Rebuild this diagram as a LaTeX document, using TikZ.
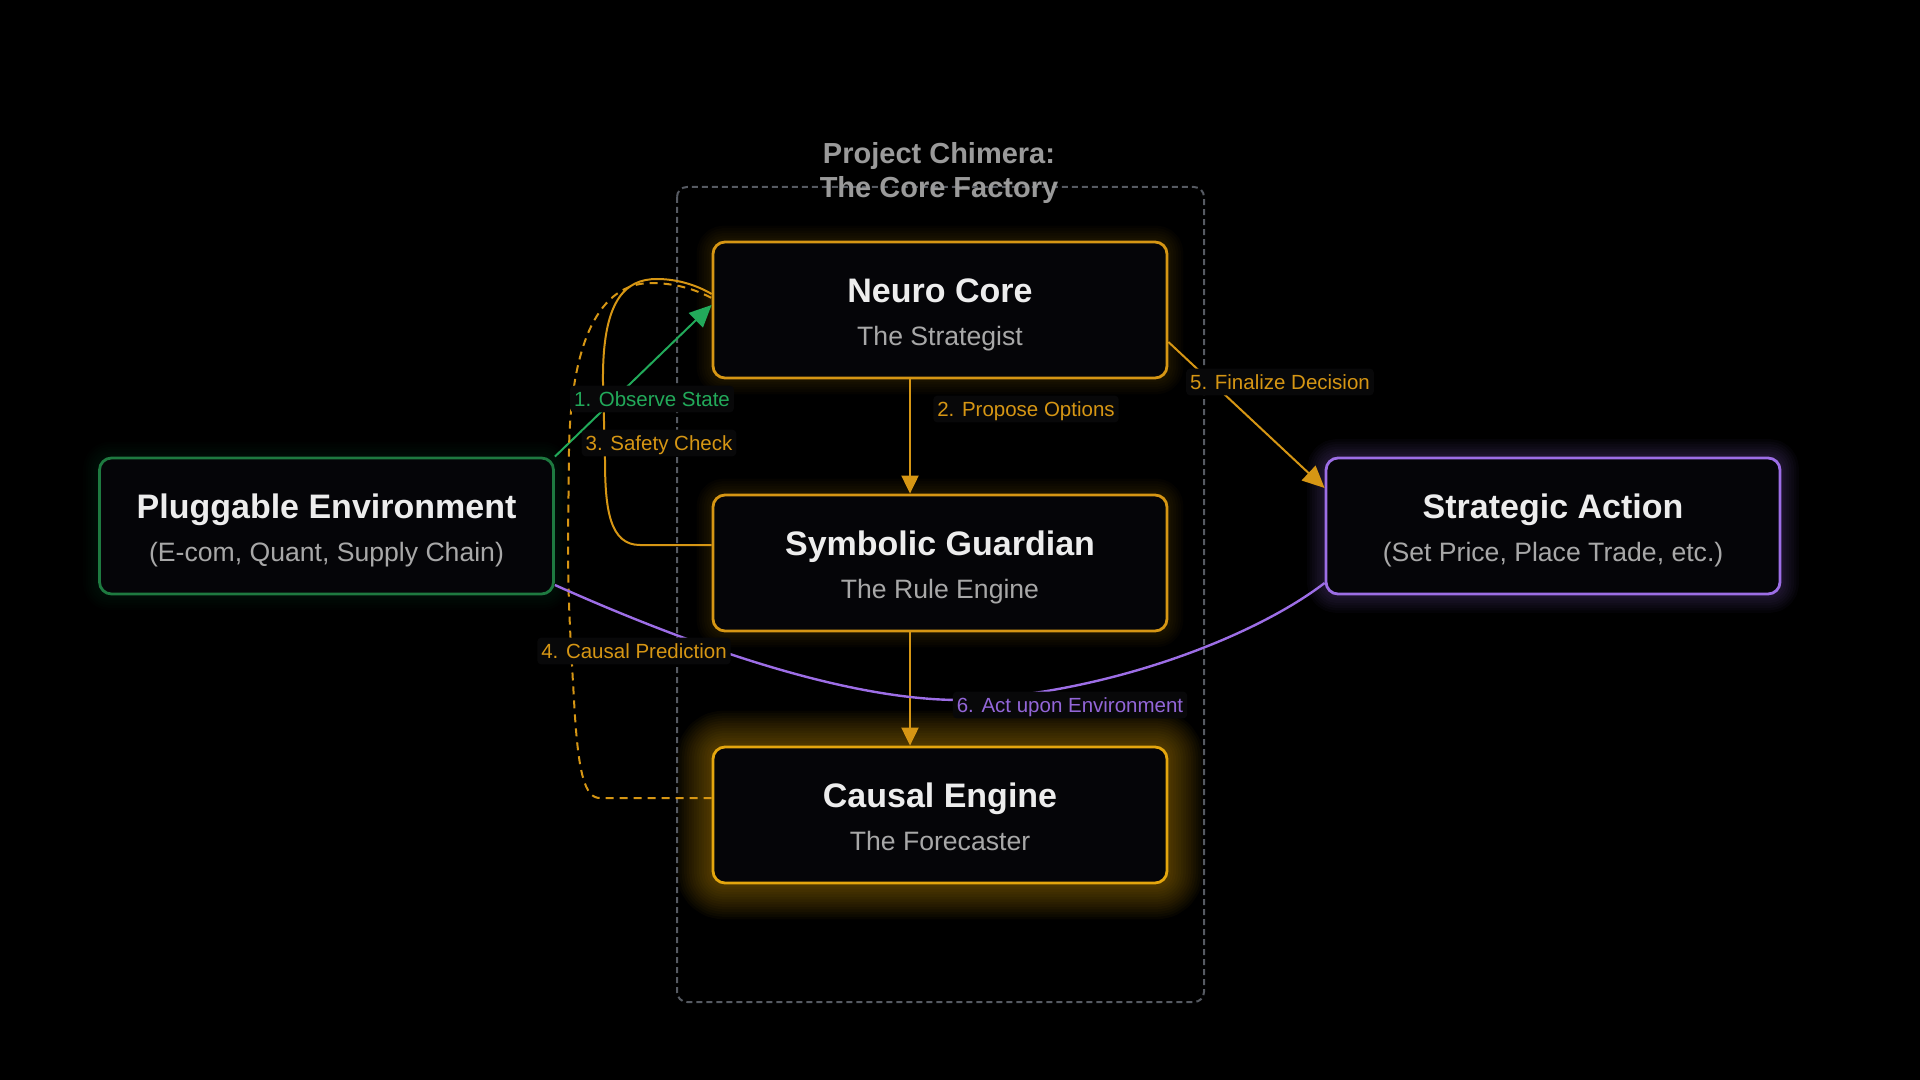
\documentclass[tikz,border=0pt]{standalone}
\usepackage{fontspec}
\setmainfont{Liberation Sans}
\usetikzlibrary{arrows.meta,calc}
\definecolor{bgc}{HTML}{000000}
\definecolor{boxfill}{HTML}{050508}
\definecolor{orng}{HTML}{D69614}
\definecolor{orngB}{HTML}{E4A60E}
\definecolor{grnB}{HTML}{1E7A40}
\definecolor{grnL}{HTML}{22AA5A}
\definecolor{purp}{HTML}{9D6EE6}
\definecolor{purpL}{HTML}{9366D8}
\definecolor{ttl}{HTML}{EDEDED}
\definecolor{subc}{HTML}{A8A8A8}
\definecolor{hdr}{HTML}{9A9A9A}
\definecolor{cont}{HTML}{565A62}
\definecolor{lblbg}{HTML}{080809}
\pgfdeclarelayer{bglayer}
\pgfdeclarelayer{glowlayer}
\pgfsetlayers{bglayer,glowlayer,main}
\tikzset{
 box/.style={draw, line width=1.4pt, rounded corners=6pt, fill=boxfill, minimum width=227pt, minimum height=68pt, inner sep=0pt},
 btitle/.style={text=ttl, font=\fontsize{17pt}{20pt}\selectfont\bfseries, text height=12.2pt, text depth=0pt, inner sep=0pt},
 bsub/.style={text=subc, font=\fontsize{13.3pt}{16pt}\selectfont, text height=9.5pt, text depth=0pt, inner sep=0pt},
 hdrtext/.style={text=hdr, font=\fontsize{14.5pt}{17pt}\selectfont\bfseries, text height=10.4pt, text depth=0pt, inner sep=0pt},
 lbl/.style={fill=lblbg, rounded corners=2pt, font=\fontsize{10.25pt}{12pt}\selectfont, text height=7.4pt, text depth=0pt, inner xsep=2pt, inner ysep=3pt},
 conn/.style={line width=1pt},
 tipS/.style={-{Triangle[length=9pt,width=8.5pt]}},
 tipL/.style={-{Triangle[length=11pt,width=10pt]}},
 container/.style={draw=cont, line width=1pt, dash pattern=on 3pt off 2pt, rounded corners=5pt},
}
\begin{document}
\begin{tikzpicture}[x=0.5pt,y=-0.5pt]
\begin{pgfonlayer}{bglayer}
\fill[bgc] (0,0) rectangle (1920,1080);
\end{pgfonlayer}
\useasboundingbox (0,0) rectangle (1920,1080);

% container
\draw[container] (677,187) rectangle (1204,1002);

% boxes
\node[box, draw=orng] (nc) at (940,310) {};
\node[box, draw=orng] (sg) at (940,563) {};
\node[box, draw=orngB] (cg) at (940,815) {};
\node[box, draw=grnB] (pe) at (326.5,526) {};
\node[box, draw=purp] (sa) at (1553,526) {};

% glows
\begin{pgfonlayer}{glowlayer}
\foreach \n/\c/\k/\o in {nc/orng/6/0.022, sg/orng/6/0.022, cg/orngB/14/0.03, pe/grnB/6/0.025, sa/purp/7/0.03} {
  \foreach \i in {1,...,\k} {
    \draw[\c, opacity=\o, line width=\i*2.5pt, rounded corners=6pt, line join=round] (\n.north west) rectangle (\n.south east);
  }
}
\end{pgfonlayer}

% header
\node[hdrtext] (h1) at (939,153) {Project Chimera:};
\node[hdrtext] (h2) at (939,187) {The Core Factory};

% box texts
\node[btitle] (nct) at ($(nc.center)+(0,-19.5)$) {Neuro Core};
\node[bsub] (ncs) at ($(nc.center)+(0,25.5)$) {The Strategist};
\node[btitle] (sgt) at ($(sg.center)+(0,-19.5)$) {Symbolic Guardian};
\node[bsub] (sgs) at ($(sg.center)+(0,25.5)$) {The Rule Engine};
\node[btitle] (cgt) at ($(cg.center)+(0,-19.5)$) {Causal Engine};
\node[bsub] (cgs) at ($(cg.center)+(0,25.5)$) {The Forecaster};
\node[btitle] (pet) at ($(pe.center)+(0,-19.5)$) {Pluggable Environment};
\node[bsub] (pes) at ($(pe.center)+(0,25.5)$) {(E-com, Quant, Supply Chain)};
\node[btitle] (sat) at ($(sa.center)+(0,-19.5)$) {Strategic Action};
\node[bsub] (sas) at ($(sa.center)+(0,25.5)$) {(Set Price, Place Trade, etc.)};

% connectors
\draw[conn, grnL, tipL] (pe.north east) -- ($(nc.west)+(0,-5)$);
\draw[conn, orng, tipS] ($(nc.south)+(-30,0)$) -- ($(sg.north)+(-30,0)$);
\draw[conn, orng, tipS] ($(sg.south)+(-30,0)$) -- ($(cg.north)+(-30,0)$);
\draw[conn, orng, tipL] ($(nc.east)+(0,32)$) -- ($(sa.west)+(0,-38)$);
\draw[conn, orng] ($(sg.west)+(0,-18)$) -- (640,545) .. controls (610,545) and (605,510) .. (605,460) -- (603,383) .. controls (602,300) and (625,279) .. (657,279) .. controls (680,279) and (700,287) .. ($(nc.west)+(0,-16)$);
\draw[conn, orng, dash pattern=on 4pt off 3pt] ($(cg.west)+(0,-17)$) -- (600,798) .. controls (585,798) and (578,775) .. (574,700) .. controls (570,630) and (568,600) .. (568,540) -- (569,450) .. controls (571,340) and (600,284) .. (650,283) .. controls (680,283) and (700,292) .. ($(nc.west)+(0,-12)$);
\draw[conn, purp, line width=1.2pt] ($(sa.west)+(0,57)$) .. controls (1250,640) and (1100,695) .. (960,700) .. controls (850,700) and (700,650) .. ($(pe.east)+(0,59)$);

% labels
\node[lbl, text=grnL] (l1) at (652,399) {1. Observe State};
\node[lbl, text=orng] (l3) at (659,443) {3. Safety Check};
\node[lbl, text=orng] (l2) at (1026,409) {2. Propose Options};
\node[lbl, text=orng] (l5) at (1280,382) {5. Finalize Decision};
\node[lbl, text=orng] (l4) at (634,651) {4. Causal Prediction};
\node[lbl, text=purpL] (l6) at (1070,705) {6. Act upon Environment};
\end{tikzpicture}
\end{document}
